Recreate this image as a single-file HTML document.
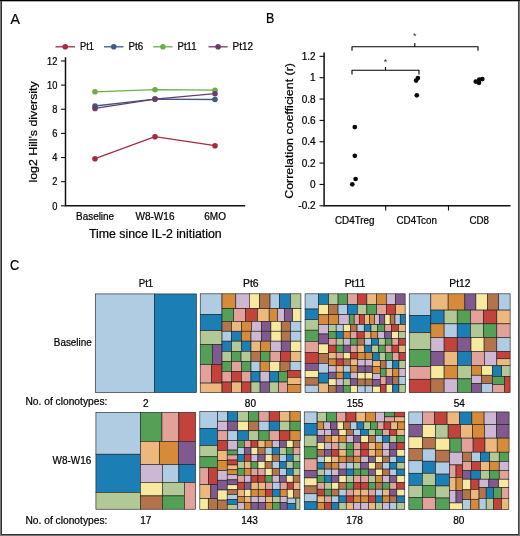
<!DOCTYPE html>
<html lang="en">
<head>
<meta charset="utf-8">
<title>Figure</title>
<style>
html,body{margin:0;padding:0;background:#fff;}
body{width:520px;height:536px;overflow:hidden;}
svg{display:block;font-family:"Liberation Sans", sans-serif;}
</style>
</head>
<body>
<svg width="520" height="536" viewBox="0 0 520 536">
<rect x="0" y="0" width="520" height="536" fill="#fff"/>
<g id="panelA">
<text x="10.5" y="23.6" font-size="14.8" text-anchor="start" fill="#000" textLength="9.4" lengthAdjust="spacingAndGlyphs" stroke="#000" stroke-width="0.22">A</text>
<line x1="55.5" y1="46.8" x2="75" y2="46.8" stroke="#a52a3d" stroke-width="1.3"/>
<circle cx="65.25" cy="46.8" r="2.8" fill="#a52a3d"/>
<text x="80" y="50.2" font-size="10.5" text-anchor="start" fill="#000" textLength="14" lengthAdjust="spacingAndGlyphs" stroke="#000" stroke-width="0.22">Pt1</text>
<line x1="104" y1="46.8" x2="123.5" y2="46.8" stroke="#3c5c88" stroke-width="1.3"/>
<circle cx="113.75" cy="46.8" r="2.8" fill="#3c5c88"/>
<text x="128.5" y="50.2" font-size="10.5" text-anchor="start" fill="#000" textLength="14.7" lengthAdjust="spacingAndGlyphs" stroke="#000" stroke-width="0.22">Pt6</text>
<line x1="153.2" y1="46.8" x2="172.6" y2="46.8" stroke="#6cad48" stroke-width="1.3"/>
<circle cx="162.89999999999998" cy="46.8" r="2.8" fill="#6cad48"/>
<text x="177.5" y="50.2" font-size="10.5" text-anchor="start" fill="#000" textLength="19" lengthAdjust="spacingAndGlyphs" stroke="#000" stroke-width="0.22">Pt11</text>
<line x1="208.5" y1="46.8" x2="227.6" y2="46.8" stroke="#6b3c69" stroke-width="1.3"/>
<circle cx="218.05" cy="46.8" r="2.8" fill="#6b3c69"/>
<text x="232.5" y="50.2" font-size="10.5" text-anchor="start" fill="#000" textLength="20.5" lengthAdjust="spacingAndGlyphs" stroke="#000" stroke-width="0.22">Pt12</text>
<path d="M65.5 57.2 V205.8 H245.2" fill="none" stroke="#111" stroke-width="1.5"/>
<line x1="61" y1="205.80" x2="65.5" y2="205.80" stroke="#111" stroke-width="1.1"/>
<text x="57.4" y="209.5" font-size="10" text-anchor="end" fill="#000" textLength="5.15" lengthAdjust="spacingAndGlyphs" stroke="#000" stroke-width="0.22">0</text>
<line x1="61" y1="181.66" x2="65.5" y2="181.66" stroke="#111" stroke-width="1.1"/>
<text x="57.4" y="185.36" font-size="10" text-anchor="end" fill="#000" textLength="5.15" lengthAdjust="spacingAndGlyphs" stroke="#000" stroke-width="0.22">2</text>
<line x1="61" y1="157.52" x2="65.5" y2="157.52" stroke="#111" stroke-width="1.1"/>
<text x="57.4" y="161.22" font-size="10" text-anchor="end" fill="#000" textLength="5.15" lengthAdjust="spacingAndGlyphs" stroke="#000" stroke-width="0.22">4</text>
<line x1="61" y1="133.38" x2="65.5" y2="133.38" stroke="#111" stroke-width="1.1"/>
<text x="57.4" y="137.08" font-size="10" text-anchor="end" fill="#000" textLength="5.15" lengthAdjust="spacingAndGlyphs" stroke="#000" stroke-width="0.22">6</text>
<line x1="61" y1="109.24" x2="65.5" y2="109.24" stroke="#111" stroke-width="1.1"/>
<text x="57.4" y="112.94" font-size="10" text-anchor="end" fill="#000" textLength="5.15" lengthAdjust="spacingAndGlyphs" stroke="#000" stroke-width="0.22">8</text>
<line x1="61" y1="85.10" x2="65.5" y2="85.10" stroke="#111" stroke-width="1.1"/>
<text x="57.4" y="88.8" font-size="10" text-anchor="end" fill="#000" textLength="10.3" lengthAdjust="spacingAndGlyphs" stroke="#000" stroke-width="0.22">10</text>
<line x1="61" y1="60.96" x2="65.5" y2="60.96" stroke="#111" stroke-width="1.1"/>
<text x="57.4" y="64.66" font-size="10" text-anchor="end" fill="#000" textLength="10.3" lengthAdjust="spacingAndGlyphs" stroke="#000" stroke-width="0.22">12</text>
<polyline points="95,91.8 155,89.7 215,90.2" fill="none" stroke="#6cad48" stroke-width="1.3"/>
<circle cx="95" cy="91.8" r="2.8" fill="#6cad48"/>
<circle cx="155" cy="89.7" r="2.8" fill="#6cad48"/>
<circle cx="215" cy="90.2" r="2.8" fill="#6cad48"/>
<polyline points="95,106.0 155,99.1 215,99.5" fill="none" stroke="#3c5c88" stroke-width="1.3"/>
<circle cx="95" cy="106.0" r="2.8" fill="#3c5c88"/>
<circle cx="155" cy="99.1" r="2.8" fill="#3c5c88"/>
<circle cx="215" cy="99.5" r="2.8" fill="#3c5c88"/>
<polyline points="95,108.4 155,99.1 215,93.7" fill="none" stroke="#6b3c69" stroke-width="1.3"/>
<circle cx="95" cy="108.4" r="2.8" fill="#6b3c69"/>
<circle cx="155" cy="99.1" r="2.8" fill="#6b3c69"/>
<circle cx="215" cy="93.7" r="2.8" fill="#6b3c69"/>
<polyline points="95,158.7 155,136.7 215,145.7" fill="none" stroke="#a52a3d" stroke-width="1.3"/>
<circle cx="95" cy="158.7" r="2.8" fill="#a52a3d"/>
<circle cx="155" cy="136.7" r="2.8" fill="#a52a3d"/>
<circle cx="215" cy="145.7" r="2.8" fill="#a52a3d"/>
<text x="76.1" y="219.7" font-size="10" text-anchor="start" fill="#000" textLength="38" lengthAdjust="spacingAndGlyphs" stroke="#000" stroke-width="0.22">Baseline</text>
<text x="135.5" y="219.6" font-size="10" text-anchor="start" fill="#000" textLength="39" lengthAdjust="spacingAndGlyphs" stroke="#000" stroke-width="0.22">W8-W16</text>
<text x="204.3" y="219.6" font-size="10" text-anchor="start" fill="#000" textLength="21.7" lengthAdjust="spacingAndGlyphs" stroke="#000" stroke-width="0.22">6MO</text>
<text x="88.9" y="238.1" font-size="12" text-anchor="start" fill="#000" textLength="132.8" lengthAdjust="spacingAndGlyphs" stroke="#000" stroke-width="0.22">Time since IL-2 initiation</text>
<text x="37.0" y="182.5" font-size="11.6" text-anchor="start" fill="#000" textLength="101.2" lengthAdjust="spacingAndGlyphs" transform="rotate(-90 37.0 182.5)" stroke="#000" stroke-width="0.22">log2 Hill's diversity</text>
</g>
<g id="panelB">
<text x="266" y="23.4" font-size="14.6" text-anchor="start" fill="#000" textLength="8.3" lengthAdjust="spacingAndGlyphs" stroke="#000" stroke-width="0.22">B</text>
<path d="M324.1 52.5 V205.8 H510.5" fill="none" stroke="#111" stroke-width="1.5"/>
<line x1="319.5" y1="205.80" x2="324.1" y2="205.80" stroke="#111" stroke-width="1.1"/>
<text x="315.6" y="209.3" font-size="10" text-anchor="end" fill="#000" stroke="#000" stroke-width="0.22">-0.2</text>
<line x1="319.5" y1="184.45" x2="324.1" y2="184.45" stroke="#111" stroke-width="1.1"/>
<text x="315.6" y="187.95" font-size="10" text-anchor="end" fill="#000" stroke="#000" stroke-width="0.22">0</text>
<line x1="319.5" y1="163.10" x2="324.1" y2="163.10" stroke="#111" stroke-width="1.1"/>
<text x="315.6" y="166.6" font-size="10" text-anchor="end" fill="#000" stroke="#000" stroke-width="0.22">0.2</text>
<line x1="319.5" y1="141.75" x2="324.1" y2="141.75" stroke="#111" stroke-width="1.1"/>
<text x="315.6" y="145.25" font-size="10" text-anchor="end" fill="#000" stroke="#000" stroke-width="0.22">0.4</text>
<line x1="319.5" y1="120.40" x2="324.1" y2="120.40" stroke="#111" stroke-width="1.1"/>
<text x="315.6" y="123.9" font-size="10" text-anchor="end" fill="#000" stroke="#000" stroke-width="0.22">0.6</text>
<line x1="319.5" y1="99.05" x2="324.1" y2="99.05" stroke="#111" stroke-width="1.1"/>
<text x="315.6" y="102.55" font-size="10" text-anchor="end" fill="#000" stroke="#000" stroke-width="0.22">0.8</text>
<line x1="319.5" y1="77.70" x2="324.1" y2="77.70" stroke="#111" stroke-width="1.1"/>
<text x="315.6" y="81.2" font-size="10" text-anchor="end" fill="#000" stroke="#000" stroke-width="0.22">1</text>
<line x1="319.5" y1="56.35" x2="324.1" y2="56.35" stroke="#111" stroke-width="1.1"/>
<text x="315.6" y="59.85" font-size="10" text-anchor="end" fill="#000" stroke="#000" stroke-width="0.22">1.2</text>
<line x1="385.7" y1="205.8" x2="385.7" y2="210.5" stroke="#111" stroke-width="1.1"/>
<line x1="448.5" y1="205.8" x2="448.5" y2="210.5" stroke="#111" stroke-width="1.1"/>
<text x="335" y="223.6" font-size="10" text-anchor="start" fill="#000" textLength="39.5" lengthAdjust="spacingAndGlyphs" stroke="#000" stroke-width="0.22">CD4Treg</text>
<text x="396.5" y="223.6" font-size="10" text-anchor="start" fill="#000" textLength="40.5" lengthAdjust="spacingAndGlyphs" stroke="#000" stroke-width="0.22">CD4Tcon</text>
<text x="469.5" y="223.6" font-size="10" text-anchor="start" fill="#000" textLength="19.5" lengthAdjust="spacingAndGlyphs" stroke="#000" stroke-width="0.22">CD8</text>
<text x="292.8" y="198.8" font-size="11.6" text-anchor="start" fill="#000" textLength="135.8" lengthAdjust="spacingAndGlyphs" transform="rotate(-90 292.8 198.8)" stroke="#000" stroke-width="0.22">Correlation coefficient (r)</text>
<circle cx="352.3" cy="184.3" r="2.35" fill="#0a0a0a"/>
<circle cx="355.6" cy="179.0" r="2.35" fill="#0a0a0a"/>
<circle cx="354.8" cy="155.8" r="2.35" fill="#0a0a0a"/>
<circle cx="354.8" cy="127.1" r="2.35" fill="#0a0a0a"/>
<circle cx="416.8" cy="95.3" r="2.35" fill="#0a0a0a"/>
<circle cx="416.1" cy="80.6" r="2.35" fill="#0a0a0a"/>
<circle cx="417.90000000000003" cy="78.1" r="2.35" fill="#0a0a0a"/>
<circle cx="475.8" cy="81.6" r="2.35" fill="#0a0a0a"/>
<circle cx="479.0" cy="82.8" r="2.35" fill="#0a0a0a"/>
<circle cx="479.3" cy="79.6" r="2.35" fill="#0a0a0a"/>
<circle cx="482.3" cy="79.1" r="2.35" fill="#0a0a0a"/>
<path d="M352 50.8 V46.8 H478 V50.8 M414.8 46.8 V43" fill="none" stroke="#000" stroke-width="1.1" stroke-linejoin="round"/>
<path d="M352 74.6 V70.3 H419 V74.6 M385.5 70.3 V67" fill="none" stroke="#000" stroke-width="1.1" stroke-linejoin="round"/>
<text x="414.8" y="39.3" font-size="9" text-anchor="middle" fill="#333">*</text>
<text x="385.5" y="64.9" font-size="9" text-anchor="middle" fill="#333">*</text>
</g>
<g id="panelC">
<text x="10" y="269.6" font-size="14.8" text-anchor="start" fill="#000" textLength="9.2" lengthAdjust="spacingAndGlyphs" stroke="#000" stroke-width="0.22">C</text>
<text x="138.75" y="287.3" font-size="10.5" text-anchor="start" fill="#000" textLength="14.5" lengthAdjust="spacingAndGlyphs" stroke="#000" stroke-width="0.22">Pt1</text>
<text x="242.95" y="287.3" font-size="10.5" text-anchor="start" fill="#000" textLength="15.7" lengthAdjust="spacingAndGlyphs" stroke="#000" stroke-width="0.22">Pt6</text>
<text x="344.65" y="287.3" font-size="10.5" text-anchor="start" fill="#000" textLength="20.7" lengthAdjust="spacingAndGlyphs" stroke="#000" stroke-width="0.22">Pt11</text>
<text x="449.35" y="287.3" font-size="10.5" text-anchor="start" fill="#000" textLength="21.1" lengthAdjust="spacingAndGlyphs" stroke="#000" stroke-width="0.22">Pt12</text>
<text x="53.8" y="346" font-size="10.5" text-anchor="start" fill="#000" textLength="38" lengthAdjust="spacingAndGlyphs" stroke="#000" stroke-width="0.22">Baseline</text>
<text x="52.6" y="463.8" font-size="10.5" text-anchor="start" fill="#000" textLength="38.7" lengthAdjust="spacingAndGlyphs" stroke="#000" stroke-width="0.22">W8-W16</text>
<text x="25.4" y="404.7" font-size="10.5" text-anchor="start" fill="#000" textLength="82" lengthAdjust="spacingAndGlyphs" stroke="#000" stroke-width="0.22">No. of clonotypes:</text>
<text x="25.4" y="523.5" font-size="10.5" text-anchor="start" fill="#000" textLength="82" lengthAdjust="spacingAndGlyphs" stroke="#000" stroke-width="0.22">No. of clonotypes:</text>
<text x="145.8" y="406.7" font-size="10" text-anchor="middle" fill="#000" stroke="#000" stroke-width="0.22">2</text>
<text x="250.4" y="406.7" font-size="10" text-anchor="middle" fill="#000" stroke="#000" stroke-width="0.22">80</text>
<text x="355" y="406.7" font-size="10" text-anchor="middle" fill="#000" stroke="#000" stroke-width="0.22">155</text>
<text x="459.2" y="406.7" font-size="10" text-anchor="middle" fill="#000" stroke="#000" stroke-width="0.22">54</text>
<text x="145.8" y="523.5" font-size="10" text-anchor="middle" fill="#000" stroke="#000" stroke-width="0.22">17</text>
<text x="249.6" y="523.5" font-size="10" text-anchor="middle" fill="#000" stroke="#000" stroke-width="0.22">143</text>
<text x="354.6" y="523.5" font-size="10" text-anchor="middle" fill="#000" stroke="#000" stroke-width="0.22">178</text>
<text x="458.8" y="523.5" font-size="10" text-anchor="middle" fill="#000" stroke="#000" stroke-width="0.22">80</text>
<g id="pt1_b" stroke="#1e1e1e" stroke-width="0.62" shape-rendering="geometricPrecision">
<rect x="95.29" y="293.92" width="59.02" height="98.58" fill="#b0cce3"/>
<rect x="154.31" y="293.92" width="42.10" height="98.58" fill="#1b7eb5"/>
</g>
<g id="pt6_b" stroke="#1e1e1e" stroke-width="0.62" shape-rendering="geometricPrecision">
<rect x="200.23" y="293.81" width="21.79" height="20.52" fill="#b0cce3"/>
<rect x="200.23" y="314.33" width="21.79" height="16.29" fill="#1b7eb5"/>
<rect x="200.23" y="330.62" width="21.79" height="13.75" fill="#b3c897"/>
<rect x="200.23" y="344.37" width="12.06" height="20.10" fill="#54a057"/>
<rect x="212.29" y="344.37" width="9.73" height="20.10" fill="#80598f"/>
<rect x="200.23" y="364.46" width="11.21" height="18.62" fill="#e2a199"/>
<rect x="211.44" y="364.46" width="10.58" height="18.62" fill="#c3423b"/>
<rect x="200.23" y="383.08" width="21.79" height="9.52" fill="#edb87e"/>
<rect x="222.02" y="293.81" width="13.75" height="14.81" fill="#d68b3a"/>
<rect x="235.77" y="293.81" width="13.54" height="14.81" fill="#cdb7d3"/>
<rect x="249.31" y="293.81" width="10.15" height="14.81" fill="#f7eaa0"/>
<rect x="259.46" y="293.81" width="10.58" height="14.81" fill="#b4744b"/>
<rect x="270.04" y="293.81" width="9.31" height="14.81" fill="#b0cce3"/>
<rect x="279.35" y="293.81" width="11.00" height="14.81" fill="#1b7eb5"/>
<rect x="290.35" y="293.81" width="10.58" height="14.81" fill="#b3c897"/>
<rect x="222.02" y="308.62" width="11.63" height="12.69" fill="#54a057"/>
<rect x="233.65" y="308.62" width="11.85" height="12.69" fill="#e2a199"/>
<rect x="245.50" y="308.62" width="12.06" height="12.69" fill="#c3423b"/>
<rect x="257.56" y="308.62" width="11.63" height="12.69" fill="#edb87e"/>
<rect x="269.19" y="308.62" width="8.25" height="12.69" fill="#d68b3a"/>
<rect x="277.44" y="308.62" width="7.19" height="12.69" fill="#cdb7d3"/>
<rect x="284.63" y="308.62" width="8.04" height="12.69" fill="#80598f"/>
<rect x="292.67" y="308.62" width="8.25" height="12.69" fill="#f7eaa0"/>
<rect x="222.02" y="321.31" width="9.52" height="9.94" fill="#b4744b"/>
<rect x="231.54" y="321.31" width="9.94" height="9.94" fill="#edb87e"/>
<rect x="241.48" y="321.31" width="9.94" height="9.94" fill="#d68b3a"/>
<rect x="251.42" y="321.31" width="9.94" height="9.94" fill="#cdb7d3"/>
<rect x="261.37" y="321.31" width="9.52" height="9.94" fill="#80598f"/>
<rect x="270.88" y="321.31" width="10.37" height="9.94" fill="#f7eaa0"/>
<rect x="281.25" y="321.31" width="9.31" height="9.94" fill="#b4744b"/>
<rect x="290.56" y="321.31" width="10.37" height="9.94" fill="#b0cce3"/>
<rect x="222.02" y="331.25" width="9.52" height="9.94" fill="#b0cce3"/>
<rect x="231.54" y="331.25" width="9.94" height="9.94" fill="#1b7eb5"/>
<rect x="241.48" y="331.25" width="9.52" height="9.94" fill="#d68b3a"/>
<rect x="251.00" y="331.25" width="10.37" height="9.94" fill="#cdb7d3"/>
<rect x="261.37" y="331.25" width="9.52" height="9.94" fill="#80598f"/>
<rect x="270.88" y="331.25" width="10.37" height="9.94" fill="#f7eaa0"/>
<rect x="281.25" y="331.25" width="9.31" height="9.94" fill="#b4744b"/>
<rect x="290.56" y="331.25" width="10.37" height="9.94" fill="#b0cce3"/>
<rect x="222.02" y="341.19" width="9.52" height="10.15" fill="#1b7eb5"/>
<rect x="231.54" y="341.19" width="9.94" height="10.15" fill="#b3c897"/>
<rect x="241.48" y="341.19" width="9.52" height="10.15" fill="#1b7eb5"/>
<rect x="251.00" y="341.19" width="9.52" height="10.15" fill="#edb87e"/>
<rect x="260.52" y="341.19" width="9.94" height="10.15" fill="#d68b3a"/>
<rect x="270.46" y="341.19" width="10.79" height="10.15" fill="#cdb7d3"/>
<rect x="281.25" y="341.19" width="9.31" height="10.15" fill="#80598f"/>
<rect x="290.56" y="341.19" width="10.37" height="10.15" fill="#f7eaa0"/>
<rect x="222.02" y="351.35" width="9.52" height="10.15" fill="#b3c897"/>
<rect x="231.54" y="351.35" width="9.52" height="10.15" fill="#54a057"/>
<rect x="241.06" y="351.35" width="9.94" height="10.15" fill="#b3c897"/>
<rect x="251.00" y="351.35" width="9.52" height="10.15" fill="#b4744b"/>
<rect x="260.52" y="351.35" width="9.52" height="10.15" fill="#54a057"/>
<rect x="270.04" y="351.35" width="10.58" height="10.15" fill="#e2a199"/>
<rect x="280.62" y="351.35" width="9.94" height="10.15" fill="#c3423b"/>
<rect x="290.56" y="351.35" width="10.37" height="10.15" fill="#edb87e"/>
<rect x="222.02" y="361.50" width="9.52" height="9.94" fill="#54a057"/>
<rect x="231.54" y="361.50" width="9.94" height="9.94" fill="#e2a199"/>
<rect x="241.48" y="361.50" width="9.52" height="9.94" fill="#54a057"/>
<rect x="251.00" y="361.50" width="9.10" height="9.94" fill="#b0cce3"/>
<rect x="260.10" y="361.50" width="9.31" height="9.94" fill="#d68b3a"/>
<rect x="269.40" y="361.50" width="10.58" height="9.94" fill="#f7eaa0"/>
<rect x="279.98" y="361.50" width="10.15" height="9.94" fill="#b4744b"/>
<rect x="222.02" y="371.44" width="9.52" height="10.58" fill="#e2a199"/>
<rect x="231.54" y="371.44" width="9.94" height="10.58" fill="#c3423b"/>
<rect x="241.48" y="371.44" width="9.52" height="10.58" fill="#e2a199"/>
<rect x="251.00" y="371.44" width="9.10" height="10.58" fill="#1b7eb5"/>
<rect x="260.10" y="371.44" width="9.31" height="10.58" fill="#cdb7d3"/>
<rect x="269.40" y="371.44" width="9.10" height="10.58" fill="#1b7eb5"/>
<rect x="278.50" y="371.44" width="8.88" height="10.58" fill="#54a057"/>
<rect x="222.02" y="382.02" width="9.52" height="10.58" fill="#c3423b"/>
<rect x="231.54" y="382.02" width="9.94" height="10.58" fill="#edb87e"/>
<rect x="241.48" y="382.02" width="9.52" height="10.58" fill="#c3423b"/>
<rect x="251.00" y="382.02" width="9.10" height="10.58" fill="#b3c897"/>
<rect x="260.10" y="382.02" width="9.31" height="10.58" fill="#80598f"/>
<rect x="269.40" y="382.02" width="9.10" height="10.58" fill="#b3c897"/>
<rect x="278.50" y="382.02" width="8.88" height="10.58" fill="#e2a199"/>
<rect x="290.13" y="361.50" width="10.79" height="8.88" fill="#b0cce3"/>
<rect x="287.38" y="370.38" width="13.54" height="6.98" fill="#c3423b"/>
<rect x="287.38" y="377.37" width="13.54" height="7.19" fill="#edb87e"/>
<rect x="287.38" y="384.56" width="13.54" height="8.04" fill="#d68b3a"/>
</g>
<g id="pt11_b" stroke="#1e1e1e" stroke-width="0.62" shape-rendering="geometricPrecision">
<rect x="305.08" y="293.81" width="13.33" height="15.23" fill="#b0cce3"/>
<rect x="305.08" y="309.04" width="13.33" height="10.58" fill="#1b7eb5"/>
<rect x="305.08" y="319.62" width="13.33" height="10.58" fill="#b3c897"/>
<rect x="305.08" y="330.19" width="13.33" height="11.21" fill="#54a057"/>
<rect x="305.08" y="341.40" width="13.33" height="11.00" fill="#e2a199"/>
<rect x="305.08" y="352.40" width="13.33" height="11.00" fill="#c3423b"/>
<rect x="305.08" y="363.40" width="13.33" height="6.98" fill="#80598f"/>
<rect x="305.08" y="370.38" width="13.33" height="7.40" fill="#f7eaa0"/>
<rect x="305.08" y="377.79" width="13.33" height="7.40" fill="#b4744b"/>
<rect x="305.08" y="385.19" width="13.33" height="7.40" fill="#b0cce3"/>
<rect x="318.40" y="293.81" width="10.15" height="10.58" fill="#1b7eb5"/>
<rect x="318.40" y="304.38" width="10.15" height="10.37" fill="#f7eaa0"/>
<rect x="318.40" y="314.75" width="10.15" height="9.73" fill="#d68b3a"/>
<rect x="318.40" y="324.48" width="10.15" height="9.52" fill="#cdb7d3"/>
<rect x="318.40" y="334.00" width="10.15" height="9.94" fill="#80598f"/>
<rect x="318.40" y="343.94" width="10.15" height="9.52" fill="#f7eaa0"/>
<rect x="318.40" y="353.46" width="10.15" height="9.94" fill="#b4744b"/>
<rect x="318.40" y="363.40" width="10.15" height="9.73" fill="#b0cce3"/>
<rect x="318.40" y="373.13" width="10.15" height="9.94" fill="#1b7eb5"/>
<rect x="318.40" y="383.08" width="10.15" height="9.52" fill="#edb87e"/>
<rect x="328.56" y="293.81" width="9.52" height="10.58" fill="#b3c897"/>
<rect x="338.08" y="293.81" width="9.52" height="10.58" fill="#54a057"/>
<rect x="347.60" y="293.81" width="9.73" height="10.58" fill="#e2a199"/>
<rect x="357.33" y="293.81" width="9.52" height="10.58" fill="#c3423b"/>
<rect x="366.85" y="293.81" width="9.73" height="10.58" fill="#edb87e"/>
<rect x="376.58" y="293.81" width="9.73" height="10.58" fill="#d68b3a"/>
<rect x="386.31" y="293.81" width="9.31" height="10.58" fill="#cdb7d3"/>
<rect x="395.62" y="293.81" width="9.52" height="10.58" fill="#80598f"/>
<rect x="328.56" y="304.38" width="9.52" height="10.37" fill="#b4744b"/>
<rect x="338.08" y="304.38" width="9.52" height="10.37" fill="#b0cce3"/>
<rect x="347.60" y="304.38" width="9.73" height="10.37" fill="#1b7eb5"/>
<rect x="357.33" y="304.38" width="9.52" height="10.37" fill="#b3c897"/>
<rect x="366.85" y="304.38" width="9.73" height="10.37" fill="#54a057"/>
<rect x="376.58" y="304.38" width="9.73" height="10.37" fill="#e2a199"/>
<rect x="386.31" y="304.38" width="9.31" height="10.37" fill="#c3423b"/>
<rect x="395.62" y="304.38" width="9.52" height="10.37" fill="#edb87e"/>
<rect x="328.55" y="314.60" width="10.20" height="9.90" fill="#d68b3a"/>
<rect x="338.75" y="314.60" width="10.50" height="9.90" fill="#cdb7d3"/>
<rect x="349.25" y="314.60" width="4.95" height="9.90" fill="#54a057"/>
<rect x="354.20" y="314.60" width="5.10" height="9.90" fill="#e2a199"/>
<rect x="359.30" y="314.60" width="5.10" height="9.90" fill="#c3423b"/>
<rect x="364.40" y="314.60" width="5.10" height="9.90" fill="#edb87e"/>
<rect x="369.50" y="314.60" width="5.10" height="9.90" fill="#d68b3a"/>
<rect x="374.60" y="314.60" width="5.10" height="9.90" fill="#cdb7d3"/>
<rect x="379.70" y="314.60" width="5.10" height="9.90" fill="#80598f"/>
<rect x="384.80" y="314.60" width="5.40" height="9.90" fill="#f7eaa0"/>
<rect x="390.20" y="314.60" width="4.80" height="9.90" fill="#b4744b"/>
<rect x="395.00" y="314.60" width="5.25" height="9.90" fill="#b0cce3"/>
<rect x="400.25" y="314.60" width="5.25" height="9.90" fill="#1b7eb5"/>
<rect x="328.55" y="324.50" width="7.65" height="7.05" fill="#b3c897"/>
<rect x="336.20" y="324.50" width="7.05" height="7.05" fill="#b0cce3"/>
<rect x="343.25" y="324.50" width="7.05" height="7.05" fill="#f7eaa0"/>
<rect x="350.30" y="324.50" width="6.75" height="7.05" fill="#b4744b"/>
<rect x="357.05" y="324.50" width="7.20" height="7.05" fill="#b0cce3"/>
<rect x="364.25" y="324.50" width="6.75" height="7.05" fill="#1b7eb5"/>
<rect x="371.00" y="324.50" width="6.75" height="7.05" fill="#b3c897"/>
<rect x="377.75" y="324.50" width="7.05" height="7.05" fill="#54a057"/>
<rect x="384.80" y="324.50" width="6.90" height="7.05" fill="#e2a199"/>
<rect x="391.70" y="324.50" width="6.75" height="7.05" fill="#c3423b"/>
<rect x="398.45" y="324.50" width="7.05" height="7.05" fill="#edb87e"/>
<rect x="328.55" y="331.55" width="7.65" height="6.75" fill="#54a057"/>
<rect x="336.20" y="331.55" width="7.05" height="6.75" fill="#1b7eb5"/>
<rect x="343.25" y="331.55" width="7.05" height="6.75" fill="#d68b3a"/>
<rect x="350.30" y="331.55" width="6.75" height="6.75" fill="#e2a199"/>
<rect x="357.05" y="331.55" width="7.20" height="6.75" fill="#c3423b"/>
<rect x="364.25" y="331.55" width="6.75" height="6.75" fill="#edb87e"/>
<rect x="371.00" y="331.55" width="6.75" height="6.75" fill="#d68b3a"/>
<rect x="377.75" y="331.55" width="7.05" height="6.75" fill="#cdb7d3"/>
<rect x="384.80" y="331.55" width="6.90" height="6.75" fill="#80598f"/>
<rect x="391.70" y="331.55" width="6.75" height="6.75" fill="#f7eaa0"/>
<rect x="398.45" y="331.55" width="7.05" height="6.75" fill="#b3c897"/>
<rect x="328.55" y="338.30" width="7.65" height="6.90" fill="#e2a199"/>
<rect x="336.20" y="338.30" width="7.05" height="6.90" fill="#b3c897"/>
<rect x="343.25" y="338.30" width="7.05" height="6.90" fill="#cdb7d3"/>
<rect x="350.30" y="338.30" width="6.90" height="6.90" fill="#54a057"/>
<rect x="357.20" y="338.30" width="7.50" height="6.90" fill="#b4744b"/>
<rect x="364.70" y="338.30" width="7.05" height="6.90" fill="#b0cce3"/>
<rect x="371.75" y="338.30" width="6.75" height="6.90" fill="#1b7eb5"/>
<rect x="378.50" y="338.30" width="6.75" height="6.90" fill="#b3c897"/>
<rect x="385.25" y="338.30" width="6.75" height="6.90" fill="#54a057"/>
<rect x="392.00" y="338.30" width="6.75" height="6.90" fill="#e2a199"/>
<rect x="398.75" y="338.30" width="6.75" height="6.90" fill="#c3423b"/>
<rect x="328.55" y="345.20" width="7.65" height="7.35" fill="#c3423b"/>
<rect x="336.20" y="345.20" width="7.05" height="7.35" fill="#54a057"/>
<rect x="343.25" y="345.20" width="7.05" height="7.35" fill="#80598f"/>
<rect x="350.30" y="345.20" width="6.90" height="7.35" fill="#e2a199"/>
<rect x="357.20" y="345.20" width="7.50" height="7.35" fill="#edb87e"/>
<rect x="364.70" y="345.20" width="7.05" height="7.35" fill="#1b7eb5"/>
<rect x="371.75" y="345.20" width="6.75" height="7.35" fill="#b3c897"/>
<rect x="378.50" y="345.20" width="6.75" height="7.35" fill="#54a057"/>
<rect x="385.25" y="345.20" width="6.75" height="7.35" fill="#e2a199"/>
<rect x="392.00" y="345.20" width="6.75" height="7.35" fill="#c3423b"/>
<rect x="398.75" y="345.20" width="6.75" height="7.35" fill="#edb87e"/>
<rect x="328.55" y="352.55" width="7.65" height="6.45" fill="#edb87e"/>
<rect x="336.20" y="352.55" width="7.05" height="6.45" fill="#e2a199"/>
<rect x="343.25" y="352.55" width="7.05" height="6.45" fill="#f7eaa0"/>
<rect x="350.30" y="352.55" width="7.20" height="6.45" fill="#c3423b"/>
<rect x="328.55" y="359.00" width="7.65" height="6.75" fill="#d68b3a"/>
<rect x="336.20" y="359.00" width="7.05" height="6.75" fill="#c3423b"/>
<rect x="343.25" y="359.00" width="7.05" height="6.75" fill="#b4744b"/>
<rect x="350.30" y="359.00" width="7.20" height="6.75" fill="#edb87e"/>
<rect x="328.55" y="365.75" width="7.65" height="6.45" fill="#cdb7d3"/>
<rect x="336.20" y="365.75" width="7.05" height="6.45" fill="#edb87e"/>
<rect x="343.25" y="365.75" width="7.05" height="6.45" fill="#b0cce3"/>
<rect x="350.30" y="365.75" width="7.20" height="6.45" fill="#d68b3a"/>
<rect x="328.55" y="372.20" width="7.65" height="6.60" fill="#80598f"/>
<rect x="336.20" y="372.20" width="7.05" height="6.60" fill="#d68b3a"/>
<rect x="343.25" y="372.20" width="7.05" height="6.60" fill="#1b7eb5"/>
<rect x="350.30" y="372.20" width="7.20" height="6.60" fill="#cdb7d3"/>
<rect x="328.55" y="378.80" width="7.65" height="6.75" fill="#f7eaa0"/>
<rect x="336.20" y="378.80" width="7.05" height="6.75" fill="#cdb7d3"/>
<rect x="343.25" y="378.80" width="7.05" height="6.75" fill="#b3c897"/>
<rect x="350.30" y="378.80" width="7.20" height="6.75" fill="#80598f"/>
<rect x="328.55" y="385.55" width="7.65" height="6.90" fill="#b4744b"/>
<rect x="336.20" y="385.55" width="7.05" height="6.90" fill="#80598f"/>
<rect x="343.25" y="385.55" width="7.05" height="6.90" fill="#54a057"/>
<rect x="350.30" y="385.55" width="7.20" height="6.90" fill="#f7eaa0"/>
<rect x="357.50" y="352.55" width="7.65" height="6.90" fill="#d68b3a"/>
<rect x="365.15" y="352.55" width="7.50" height="6.90" fill="#d68b3a"/>
<rect x="357.50" y="359.45" width="7.65" height="6.60" fill="#cdb7d3"/>
<rect x="365.15" y="359.45" width="7.50" height="6.60" fill="#cdb7d3"/>
<rect x="357.50" y="366.05" width="7.65" height="6.60" fill="#80598f"/>
<rect x="365.15" y="366.05" width="7.50" height="6.60" fill="#80598f"/>
<rect x="357.50" y="372.65" width="7.65" height="6.45" fill="#f7eaa0"/>
<rect x="365.15" y="372.65" width="7.50" height="6.45" fill="#f7eaa0"/>
<rect x="357.50" y="379.10" width="7.65" height="6.75" fill="#b4744b"/>
<rect x="365.15" y="379.10" width="7.50" height="6.75" fill="#b4744b"/>
<rect x="357.50" y="385.85" width="7.65" height="6.60" fill="#b0cce3"/>
<rect x="365.15" y="385.85" width="7.50" height="6.60" fill="#b0cce3"/>
<rect x="372.65" y="352.55" width="6.60" height="8.10" fill="#1b7eb5"/>
<rect x="379.25" y="352.55" width="6.45" height="8.10" fill="#b3c897"/>
<rect x="385.70" y="352.55" width="6.60" height="8.10" fill="#54a057"/>
<rect x="392.30" y="352.55" width="6.75" height="8.10" fill="#e2a199"/>
<rect x="399.05" y="352.55" width="6.45" height="8.10" fill="#c3423b"/>
<rect x="372.65" y="360.65" width="7.80" height="5.70" fill="#edb87e"/>
<rect x="372.65" y="366.35" width="7.80" height="7.05" fill="#d68b3a"/>
<rect x="372.65" y="373.40" width="7.80" height="6.00" fill="#cdb7d3"/>
<rect x="372.65" y="379.40" width="7.80" height="6.75" fill="#80598f"/>
<rect x="372.65" y="386.15" width="7.80" height="6.30" fill="#f7eaa0"/>
<rect x="380.45" y="360.65" width="5.70" height="7.80" fill="#b4744b"/>
<rect x="386.15" y="360.65" width="6.60" height="7.80" fill="#b0cce3"/>
<rect x="392.75" y="360.65" width="6.15" height="7.80" fill="#1b7eb5"/>
<rect x="398.90" y="360.65" width="6.60" height="7.80" fill="#b3c897"/>
<rect x="380.45" y="368.45" width="5.70" height="7.95" fill="#54a057"/>
<rect x="386.15" y="368.45" width="6.60" height="7.95" fill="#edb87e"/>
<rect x="392.75" y="368.45" width="6.15" height="7.95" fill="#d68b3a"/>
<rect x="398.90" y="368.45" width="6.60" height="7.95" fill="#cdb7d3"/>
<rect x="380.45" y="376.40" width="5.70" height="7.95" fill="#e2a199"/>
<rect x="386.15" y="376.40" width="6.60" height="7.95" fill="#80598f"/>
<rect x="392.75" y="376.40" width="6.15" height="7.95" fill="#b4744b"/>
<rect x="398.90" y="376.40" width="6.60" height="7.95" fill="#b0cce3"/>
<rect x="380.45" y="384.35" width="5.70" height="8.10" fill="#c3423b"/>
<rect x="386.15" y="384.35" width="6.60" height="8.10" fill="#f7eaa0"/>
<rect x="392.75" y="384.35" width="6.15" height="8.10" fill="#1b7eb5"/>
<rect x="398.90" y="384.35" width="6.60" height="8.10" fill="#b3c897"/>
</g>
<g id="pt12_b" stroke="#1e1e1e" stroke-width="0.62" shape-rendering="geometricPrecision">
<rect x="409.23" y="293.81" width="21.58" height="21.58" fill="#b0cce3"/>
<rect x="409.23" y="315.38" width="21.58" height="17.35" fill="#1b7eb5"/>
<rect x="409.23" y="332.73" width="21.58" height="16.92" fill="#b3c897"/>
<rect x="409.23" y="349.65" width="21.58" height="16.92" fill="#54a057"/>
<rect x="409.23" y="366.58" width="21.58" height="12.69" fill="#e2a199"/>
<rect x="409.23" y="379.27" width="21.58" height="13.33" fill="#c3423b"/>
<rect x="430.81" y="293.81" width="17.35" height="16.29" fill="#edb87e"/>
<rect x="448.15" y="293.81" width="16.71" height="16.29" fill="#d68b3a"/>
<rect x="464.87" y="293.81" width="11.00" height="16.29" fill="#80598f"/>
<rect x="475.87" y="293.81" width="11.63" height="16.29" fill="#f7eaa0"/>
<rect x="487.50" y="293.81" width="11.21" height="16.29" fill="#b4744b"/>
<rect x="498.71" y="293.81" width="11.42" height="16.29" fill="#b0cce3"/>
<rect x="430.81" y="310.10" width="13.33" height="13.75" fill="#1b7eb5"/>
<rect x="444.13" y="310.10" width="13.12" height="13.75" fill="#b3c897"/>
<rect x="457.25" y="310.10" width="13.33" height="13.75" fill="#54a057"/>
<rect x="470.58" y="310.10" width="13.12" height="13.75" fill="#e2a199"/>
<rect x="483.69" y="310.10" width="13.12" height="13.75" fill="#c3423b"/>
<rect x="496.81" y="310.10" width="13.33" height="13.75" fill="#edb87e"/>
<rect x="430.81" y="323.85" width="13.33" height="13.75" fill="#d68b3a"/>
<rect x="444.13" y="323.85" width="13.12" height="13.75" fill="#b0cce3"/>
<rect x="457.25" y="323.85" width="13.33" height="13.75" fill="#1b7eb5"/>
<rect x="470.58" y="323.85" width="13.12" height="13.75" fill="#b3c897"/>
<rect x="483.69" y="323.85" width="13.12" height="13.75" fill="#54a057"/>
<rect x="496.81" y="323.85" width="13.33" height="13.75" fill="#e2a199"/>
<rect x="430.81" y="337.60" width="13.33" height="13.75" fill="#cdb7d3"/>
<rect x="444.13" y="337.60" width="13.12" height="13.75" fill="#c3423b"/>
<rect x="457.25" y="337.60" width="13.75" height="13.75" fill="#80598f"/>
<rect x="471.00" y="337.60" width="13.12" height="13.75" fill="#f7eaa0"/>
<rect x="484.12" y="337.60" width="12.69" height="13.75" fill="#b4744b"/>
<rect x="496.81" y="337.60" width="13.33" height="13.75" fill="#b0cce3"/>
<rect x="430.81" y="351.35" width="13.33" height="14.17" fill="#80598f"/>
<rect x="444.13" y="351.35" width="13.54" height="14.17" fill="#edb87e"/>
<rect x="457.67" y="351.35" width="13.75" height="14.17" fill="#1b7eb5"/>
<rect x="471.42" y="351.35" width="13.12" height="14.17" fill="#e2a199"/>
<rect x="484.54" y="351.35" width="12.27" height="14.17" fill="#cdb7d3"/>
<rect x="430.81" y="365.52" width="13.33" height="13.33" fill="#f7eaa0"/>
<rect x="444.13" y="365.52" width="13.54" height="13.33" fill="#d68b3a"/>
<rect x="457.67" y="365.52" width="13.75" height="13.33" fill="#b3c897"/>
<rect x="430.81" y="378.85" width="13.33" height="13.75" fill="#b4744b"/>
<rect x="444.13" y="378.85" width="13.54" height="13.75" fill="#cdb7d3"/>
<rect x="457.67" y="378.85" width="13.75" height="13.75" fill="#54a057"/>
<rect x="496.81" y="351.35" width="13.33" height="7.40" fill="#c3423b"/>
<rect x="496.81" y="358.75" width="13.33" height="6.98" fill="#edb87e"/>
<rect x="471.42" y="365.73" width="10.15" height="9.52" fill="#d68b3a"/>
<rect x="481.58" y="365.73" width="10.79" height="9.52" fill="#f7eaa0"/>
<rect x="492.37" y="365.73" width="9.31" height="10.58" fill="#1b7eb5"/>
<rect x="501.67" y="365.73" width="8.46" height="10.58" fill="#b3c897"/>
<rect x="471.42" y="375.25" width="10.15" height="8.25" fill="#cdb7d3"/>
<rect x="481.58" y="375.25" width="10.79" height="8.25" fill="#b4744b"/>
<rect x="492.37" y="376.31" width="12.06" height="8.25" fill="#54a057"/>
<rect x="504.42" y="376.31" width="5.71" height="16.29" fill="#c3423b"/>
<rect x="471.42" y="383.50" width="10.15" height="9.10" fill="#80598f"/>
<rect x="481.58" y="383.50" width="10.79" height="9.10" fill="#b0cce3"/>
<rect x="492.37" y="384.56" width="12.06" height="8.04" fill="#e2a199"/>
</g>
<g id="pt1_w" stroke="#1e1e1e" stroke-width="0.62" shape-rendering="geometricPrecision">
<rect x="95.92" y="412.35" width="44.42" height="41.88" fill="#b0cce3"/>
<rect x="95.92" y="454.23" width="44.42" height="38.08" fill="#1b7eb5"/>
<rect x="95.92" y="492.31" width="44.42" height="16.92" fill="#b3c897"/>
<rect x="140.35" y="412.35" width="21.58" height="28.98" fill="#54a057"/>
<rect x="161.92" y="412.35" width="16.92" height="28.98" fill="#e2a199"/>
<rect x="178.85" y="412.35" width="16.71" height="28.98" fill="#c3423b"/>
<rect x="140.35" y="441.33" width="19.04" height="23.27" fill="#edb87e"/>
<rect x="159.38" y="441.33" width="19.04" height="23.27" fill="#d68b3a"/>
<rect x="178.42" y="441.33" width="17.13" height="23.27" fill="#80598f"/>
<rect x="140.35" y="464.60" width="22.00" height="17.77" fill="#cdb7d3"/>
<rect x="162.35" y="464.60" width="16.50" height="17.77" fill="#b0cce3"/>
<rect x="178.85" y="464.60" width="16.71" height="17.77" fill="#1b7eb5"/>
<rect x="140.35" y="482.37" width="22.00" height="13.54" fill="#f7eaa0"/>
<rect x="140.35" y="495.90" width="22.00" height="13.33" fill="#b4744b"/>
<rect x="162.35" y="482.37" width="22.00" height="13.54" fill="#b3c897"/>
<rect x="162.35" y="495.90" width="22.00" height="13.33" fill="#54a057"/>
<rect x="184.35" y="482.37" width="11.21" height="26.87" fill="#e2a199"/>
</g>
<g id="pt6_w" stroke="#1e1e1e" stroke-width="0.62" shape-rendering="geometricPrecision">
<rect x="199.81" y="411.50" width="17.77" height="16.92" fill="#b0cce3"/>
<rect x="199.81" y="428.42" width="17.77" height="17.13" fill="#1b7eb5"/>
<rect x="199.81" y="445.56" width="17.77" height="11.21" fill="#b3c897"/>
<rect x="199.81" y="456.77" width="17.77" height="11.00" fill="#54a057"/>
<rect x="199.81" y="467.77" width="8.88" height="16.92" fill="#e2a199"/>
<rect x="208.69" y="467.77" width="8.88" height="16.92" fill="#c3423b"/>
<rect x="199.81" y="484.69" width="11.00" height="13.96" fill="#edb87e"/>
<rect x="210.81" y="484.69" width="6.77" height="13.96" fill="#80598f"/>
<rect x="199.81" y="498.65" width="8.46" height="11.00" fill="#f7eaa0"/>
<rect x="208.27" y="498.65" width="9.31" height="11.00" fill="#b4744b"/>
<rect x="217.58" y="411.50" width="10.15" height="9.73" fill="#b0cce3"/>
<rect x="217.58" y="421.23" width="10.15" height="9.52" fill="#cdb7d3"/>
<rect x="217.58" y="430.75" width="10.15" height="9.73" fill="#e2a199"/>
<rect x="217.58" y="440.48" width="10.15" height="9.94" fill="#c3423b"/>
<rect x="217.58" y="450.42" width="10.15" height="10.15" fill="#edb87e"/>
<rect x="217.58" y="460.58" width="10.15" height="9.94" fill="#d68b3a"/>
<rect x="217.58" y="470.52" width="10.15" height="9.73" fill="#cdb7d3"/>
<rect x="217.58" y="480.25" width="10.15" height="9.73" fill="#80598f"/>
<rect x="217.58" y="489.98" width="10.15" height="10.15" fill="#f7eaa0"/>
<rect x="217.58" y="500.13" width="10.15" height="9.52" fill="#b4744b"/>
<rect x="227.73" y="411.50" width="9.94" height="9.73" fill="#1b7eb5"/>
<rect x="227.73" y="421.23" width="9.94" height="9.52" fill="#80598f"/>
<rect x="227.73" y="430.75" width="9.94" height="9.73" fill="#b0cce3"/>
<rect x="227.73" y="440.48" width="9.94" height="9.52" fill="#cdb7d3"/>
<rect x="237.67" y="411.50" width="10.79" height="9.73" fill="#b3c897"/>
<rect x="248.46" y="411.50" width="10.37" height="9.73" fill="#54a057"/>
<rect x="258.83" y="411.50" width="10.37" height="9.73" fill="#e2a199"/>
<rect x="269.19" y="411.50" width="10.37" height="9.73" fill="#c3423b"/>
<rect x="279.56" y="411.50" width="10.37" height="9.73" fill="#edb87e"/>
<rect x="289.92" y="411.50" width="10.37" height="9.73" fill="#d68b3a"/>
<rect x="237.67" y="421.23" width="10.79" height="9.52" fill="#f7eaa0"/>
<rect x="248.46" y="421.23" width="10.37" height="9.52" fill="#b4744b"/>
<rect x="258.83" y="421.23" width="10.37" height="9.52" fill="#b0cce3"/>
<rect x="269.19" y="421.23" width="10.37" height="9.52" fill="#1b7eb5"/>
<rect x="279.56" y="421.23" width="10.37" height="9.52" fill="#b3c897"/>
<rect x="289.92" y="421.23" width="10.37" height="9.52" fill="#54a057"/>
<rect x="237.67" y="430.75" width="10.79" height="9.73" fill="#1b7eb5"/>
<rect x="248.46" y="430.75" width="10.37" height="9.73" fill="#b3c897"/>
<rect x="258.83" y="430.75" width="10.37" height="9.73" fill="#54a057"/>
<rect x="269.19" y="430.75" width="10.37" height="9.73" fill="#e2a199"/>
<rect x="279.56" y="430.75" width="10.37" height="9.73" fill="#c3423b"/>
<rect x="289.92" y="430.75" width="10.37" height="9.73" fill="#d68b3a"/>
<rect x="227.20" y="450.15" width="10.50" height="4.80" fill="#54a057"/>
<rect x="227.20" y="454.95" width="10.50" height="5.10" fill="#e2a199"/>
<rect x="227.20" y="460.05" width="10.50" height="4.95" fill="#c3423b"/>
<rect x="227.20" y="465.00" width="10.50" height="4.80" fill="#edb87e"/>
<rect x="227.20" y="469.80" width="10.50" height="4.95" fill="#d68b3a"/>
<rect x="227.20" y="474.75" width="10.50" height="5.10" fill="#cdb7d3"/>
<rect x="227.20" y="479.85" width="10.50" height="4.95" fill="#80598f"/>
<rect x="227.20" y="484.80" width="10.50" height="4.95" fill="#f7eaa0"/>
<rect x="227.20" y="489.75" width="10.50" height="4.80" fill="#b4744b"/>
<rect x="227.20" y="494.55" width="10.50" height="4.95" fill="#b0cce3"/>
<rect x="227.20" y="499.50" width="10.50" height="4.80" fill="#1b7eb5"/>
<rect x="227.20" y="504.30" width="10.50" height="5.10" fill="#b3c897"/>
<rect x="237.70" y="440.40" width="6.60" height="7.05" fill="#54a057"/>
<rect x="244.30" y="440.40" width="6.75" height="7.05" fill="#e2a199"/>
<rect x="251.05" y="440.40" width="6.90" height="7.05" fill="#c3423b"/>
<rect x="257.95" y="440.40" width="7.20" height="7.05" fill="#edb87e"/>
<rect x="265.15" y="440.40" width="7.05" height="7.05" fill="#d68b3a"/>
<rect x="272.20" y="440.40" width="7.35" height="7.05" fill="#cdb7d3"/>
<rect x="279.55" y="440.40" width="6.75" height="7.05" fill="#80598f"/>
<rect x="286.30" y="440.40" width="6.90" height="7.05" fill="#f7eaa0"/>
<rect x="293.20" y="440.40" width="6.75" height="7.05" fill="#b4744b"/>
<rect x="237.70" y="447.45" width="6.60" height="6.90" fill="#b0cce3"/>
<rect x="244.30" y="447.45" width="6.75" height="6.90" fill="#80598f"/>
<rect x="251.05" y="447.45" width="6.90" height="6.90" fill="#f7eaa0"/>
<rect x="257.95" y="447.45" width="7.20" height="6.90" fill="#b4744b"/>
<rect x="265.15" y="447.45" width="7.05" height="6.90" fill="#b0cce3"/>
<rect x="272.20" y="447.45" width="7.35" height="6.90" fill="#1b7eb5"/>
<rect x="279.55" y="447.45" width="6.75" height="6.90" fill="#b3c897"/>
<rect x="286.30" y="447.45" width="6.90" height="6.90" fill="#54a057"/>
<rect x="293.20" y="447.45" width="6.75" height="6.90" fill="#e2a199"/>
<rect x="237.70" y="454.35" width="6.60" height="7.05" fill="#1b7eb5"/>
<rect x="244.30" y="454.35" width="6.75" height="7.05" fill="#c3423b"/>
<rect x="251.05" y="454.35" width="6.90" height="7.05" fill="#cdb7d3"/>
<rect x="257.95" y="454.35" width="7.20" height="7.05" fill="#80598f"/>
<rect x="265.15" y="454.35" width="7.05" height="7.05" fill="#f7eaa0"/>
<rect x="272.20" y="454.35" width="7.35" height="7.05" fill="#b4744b"/>
<rect x="279.55" y="454.35" width="6.75" height="7.05" fill="#b0cce3"/>
<rect x="286.30" y="454.35" width="6.90" height="7.05" fill="#1b7eb5"/>
<rect x="293.20" y="454.35" width="6.75" height="7.05" fill="#b3c897"/>
<rect x="237.70" y="461.40" width="6.60" height="6.90" fill="#b3c897"/>
<rect x="244.30" y="461.40" width="6.75" height="6.90" fill="#edb87e"/>
<rect x="251.05" y="461.40" width="6.90" height="6.90" fill="#54a057"/>
<rect x="257.95" y="461.40" width="7.20" height="6.90" fill="#f7eaa0"/>
<rect x="265.15" y="461.40" width="7.05" height="6.90" fill="#b4744b"/>
<rect x="272.20" y="461.40" width="7.35" height="6.90" fill="#b0cce3"/>
<rect x="279.55" y="461.40" width="6.75" height="6.90" fill="#1b7eb5"/>
<rect x="286.30" y="461.40" width="6.90" height="6.90" fill="#b3c897"/>
<rect x="293.20" y="461.40" width="6.75" height="6.90" fill="#54a057"/>
<rect x="237.70" y="468.30" width="6.60" height="7.05" fill="#54a057"/>
<rect x="244.30" y="468.30" width="6.75" height="7.05" fill="#d68b3a"/>
<rect x="251.05" y="468.30" width="6.90" height="7.05" fill="#e2a199"/>
<rect x="257.95" y="468.30" width="7.20" height="7.05" fill="#e2a199"/>
<rect x="265.15" y="468.30" width="7.05" height="7.05" fill="#f7eaa0"/>
<rect x="272.20" y="468.30" width="7.35" height="7.05" fill="#b4744b"/>
<rect x="279.55" y="468.30" width="6.75" height="7.05" fill="#b0cce3"/>
<rect x="286.30" y="468.30" width="6.90" height="7.05" fill="#1b7eb5"/>
<rect x="293.20" y="468.30" width="6.75" height="7.05" fill="#b3c897"/>
<rect x="237.70" y="475.35" width="6.60" height="6.90" fill="#e2a199"/>
<rect x="244.30" y="475.35" width="6.75" height="6.90" fill="#cdb7d3"/>
<rect x="251.05" y="475.35" width="6.90" height="6.90" fill="#c3423b"/>
<rect x="257.95" y="475.35" width="7.20" height="6.90" fill="#c3423b"/>
<rect x="265.15" y="475.35" width="7.05" height="6.90" fill="#54a057"/>
<rect x="272.20" y="475.35" width="7.35" height="6.90" fill="#cdb7d3"/>
<rect x="279.55" y="475.35" width="6.75" height="6.90" fill="#80598f"/>
<rect x="286.30" y="475.35" width="6.90" height="6.90" fill="#f7eaa0"/>
<rect x="293.20" y="475.35" width="6.75" height="6.90" fill="#b4744b"/>
<rect x="237.70" y="482.25" width="6.60" height="7.05" fill="#c3423b"/>
<rect x="244.30" y="482.25" width="6.75" height="7.05" fill="#80598f"/>
<rect x="251.05" y="482.25" width="7.20" height="7.05" fill="#edb87e"/>
<rect x="258.25" y="482.25" width="7.35" height="7.05" fill="#edb87e"/>
<rect x="265.60" y="482.25" width="6.75" height="7.05" fill="#e2a199"/>
<rect x="272.35" y="482.25" width="7.80" height="7.05" fill="#b0cce3"/>
<rect x="280.15" y="482.25" width="7.05" height="7.05" fill="#e2a199"/>
<rect x="287.20" y="482.25" width="6.30" height="7.05" fill="#c3423b"/>
<rect x="293.50" y="482.25" width="6.45" height="7.05" fill="#edb87e"/>
<rect x="237.70" y="489.30" width="6.60" height="7.05" fill="#edb87e"/>
<rect x="244.30" y="489.30" width="6.75" height="7.05" fill="#f7eaa0"/>
<rect x="251.05" y="489.30" width="7.20" height="7.05" fill="#d68b3a"/>
<rect x="258.25" y="489.30" width="7.35" height="7.05" fill="#d68b3a"/>
<rect x="265.60" y="489.30" width="6.75" height="7.05" fill="#c3423b"/>
<rect x="272.35" y="489.30" width="7.80" height="7.05" fill="#1b7eb5"/>
<rect x="280.15" y="489.30" width="7.05" height="7.05" fill="#d68b3a"/>
<rect x="287.20" y="489.30" width="6.30" height="8.85" fill="#f7eaa0"/>
<rect x="293.50" y="489.30" width="6.45" height="8.85" fill="#b4744b"/>
<rect x="237.70" y="496.35" width="6.60" height="6.30" fill="#d68b3a"/>
<rect x="244.30" y="496.35" width="6.75" height="6.30" fill="#edb87e"/>
<rect x="251.05" y="496.35" width="7.20" height="6.30" fill="#cdb7d3"/>
<rect x="258.25" y="496.35" width="7.35" height="6.30" fill="#cdb7d3"/>
<rect x="265.60" y="496.35" width="6.75" height="6.30" fill="#edb87e"/>
<rect x="272.35" y="496.35" width="7.80" height="6.30" fill="#b3c897"/>
<rect x="280.15" y="496.35" width="7.05" height="6.30" fill="#cdb7d3"/>
<rect x="237.70" y="502.65" width="6.60" height="6.75" fill="#cdb7d3"/>
<rect x="244.30" y="502.65" width="6.75" height="6.75" fill="#d68b3a"/>
<rect x="251.05" y="502.65" width="7.20" height="6.75" fill="#80598f"/>
<rect x="258.25" y="502.65" width="7.35" height="6.75" fill="#80598f"/>
<rect x="265.60" y="502.65" width="6.75" height="6.75" fill="#d68b3a"/>
<rect x="272.35" y="502.65" width="7.80" height="6.75" fill="#54a057"/>
<rect x="280.15" y="502.65" width="7.05" height="6.75" fill="#80598f"/>
<rect x="287.20" y="498.15" width="8.70" height="5.40" fill="#b0cce3"/>
<rect x="287.20" y="503.55" width="8.70" height="5.85" fill="#1b7eb5"/>
<rect x="295.90" y="498.15" width="4.05" height="11.25" fill="#b3c897"/>
</g>
<g id="pt11_w" stroke="#1e1e1e" stroke-width="0.62" shape-rendering="geometricPrecision">
<rect x="304.23" y="411.92" width="12.69" height="11.42" fill="#b0cce3"/>
<rect x="304.23" y="423.35" width="12.69" height="11.85" fill="#1b7eb5"/>
<rect x="304.23" y="435.19" width="12.69" height="11.63" fill="#b3c897"/>
<rect x="304.23" y="446.83" width="12.69" height="12.06" fill="#54a057"/>
<rect x="304.23" y="458.88" width="12.69" height="11.63" fill="#e2a199"/>
<rect x="304.23" y="470.52" width="12.69" height="7.40" fill="#80598f"/>
<rect x="304.23" y="477.92" width="12.69" height="8.04" fill="#f7eaa0"/>
<rect x="304.23" y="485.96" width="12.69" height="7.83" fill="#b4744b"/>
<rect x="304.23" y="493.79" width="12.69" height="8.04" fill="#b0cce3"/>
<rect x="304.23" y="501.83" width="12.69" height="7.83" fill="#1b7eb5"/>
<rect x="317.30" y="412.20" width="9.30" height="9.75" fill="#b3c897"/>
<rect x="326.60" y="412.20" width="9.90" height="9.75" fill="#54a057"/>
<rect x="336.50" y="412.20" width="9.45" height="9.75" fill="#e2a199"/>
<rect x="345.95" y="412.20" width="10.05" height="9.75" fill="#c3423b"/>
<rect x="356.00" y="412.20" width="9.45" height="9.75" fill="#edb87e"/>
<rect x="365.45" y="412.20" width="10.05" height="9.75" fill="#d68b3a"/>
<rect x="375.50" y="412.20" width="9.15" height="9.75" fill="#cdb7d3"/>
<rect x="384.65" y="412.20" width="9.75" height="4.65" fill="#54a057"/>
<rect x="394.40" y="412.20" width="10.35" height="4.65" fill="#c3423b"/>
<rect x="384.65" y="416.85" width="9.75" height="5.10" fill="#e2a199"/>
<rect x="394.40" y="416.85" width="10.35" height="5.10" fill="#edb87e"/>
<rect x="317.30" y="421.95" width="6.45" height="7.50" fill="#d68b3a"/>
<rect x="323.75" y="421.95" width="6.75" height="7.50" fill="#cdb7d3"/>
<rect x="330.50" y="421.95" width="6.60" height="7.50" fill="#80598f"/>
<rect x="337.10" y="421.95" width="6.60" height="7.50" fill="#f7eaa0"/>
<rect x="343.70" y="421.95" width="6.60" height="7.50" fill="#b4744b"/>
<rect x="350.30" y="421.95" width="6.75" height="7.50" fill="#b0cce3"/>
<rect x="357.05" y="421.95" width="6.75" height="7.50" fill="#1b7eb5"/>
<rect x="363.80" y="421.95" width="6.75" height="7.50" fill="#b3c897"/>
<rect x="370.55" y="421.95" width="6.75" height="7.50" fill="#54a057"/>
<rect x="377.30" y="421.95" width="6.75" height="7.50" fill="#e2a199"/>
<rect x="384.05" y="421.95" width="6.75" height="7.50" fill="#c3423b"/>
<rect x="390.80" y="421.95" width="6.75" height="7.50" fill="#edb87e"/>
<rect x="397.55" y="421.95" width="7.20" height="7.50" fill="#d68b3a"/>
<rect x="317.30" y="429.45" width="7.05" height="6.15" fill="#cdb7d3"/>
<rect x="324.35" y="429.45" width="7.20" height="6.15" fill="#cdb7d3"/>
<rect x="331.55" y="429.45" width="7.35" height="6.15" fill="#80598f"/>
<rect x="338.90" y="429.45" width="7.35" height="6.15" fill="#f7eaa0"/>
<rect x="346.25" y="429.45" width="7.43" height="6.15" fill="#b4744b"/>
<rect x="353.68" y="429.45" width="7.12" height="6.15" fill="#b0cce3"/>
<rect x="360.80" y="429.45" width="7.57" height="6.15" fill="#1b7eb5"/>
<rect x="368.38" y="429.45" width="7.12" height="6.15" fill="#b3c897"/>
<rect x="375.50" y="429.45" width="7.12" height="6.15" fill="#54a057"/>
<rect x="382.62" y="429.45" width="7.12" height="6.15" fill="#e2a199"/>
<rect x="389.75" y="429.45" width="7.05" height="6.15" fill="#c3423b"/>
<rect x="396.80" y="429.45" width="7.95" height="6.15" fill="#edb87e"/>
<rect x="317.30" y="435.60" width="7.05" height="6.90" fill="#80598f"/>
<rect x="324.35" y="435.60" width="7.20" height="6.90" fill="#d68b3a"/>
<rect x="331.55" y="435.60" width="7.35" height="6.90" fill="#edb87e"/>
<rect x="338.90" y="435.60" width="7.35" height="6.90" fill="#d68b3a"/>
<rect x="346.25" y="435.60" width="7.43" height="6.90" fill="#cdb7d3"/>
<rect x="353.68" y="435.60" width="7.12" height="6.90" fill="#80598f"/>
<rect x="360.80" y="435.60" width="7.57" height="6.90" fill="#f7eaa0"/>
<rect x="368.38" y="435.60" width="7.12" height="6.90" fill="#b4744b"/>
<rect x="375.50" y="435.60" width="7.12" height="6.90" fill="#b0cce3"/>
<rect x="382.62" y="435.60" width="7.12" height="6.90" fill="#1b7eb5"/>
<rect x="389.75" y="435.60" width="7.05" height="6.90" fill="#b3c897"/>
<rect x="396.80" y="435.60" width="7.95" height="6.90" fill="#54a057"/>
<rect x="317.30" y="442.50" width="7.05" height="6.98" fill="#f7eaa0"/>
<rect x="324.35" y="442.50" width="7.20" height="6.98" fill="#cdb7d3"/>
<rect x="331.55" y="442.50" width="7.35" height="6.98" fill="#e2a199"/>
<rect x="338.90" y="442.50" width="7.35" height="6.98" fill="#b3c897"/>
<rect x="346.25" y="442.50" width="7.43" height="6.98" fill="#54a057"/>
<rect x="353.68" y="442.50" width="7.12" height="6.98" fill="#e2a199"/>
<rect x="360.80" y="442.50" width="7.57" height="6.98" fill="#c3423b"/>
<rect x="368.38" y="442.50" width="7.12" height="6.98" fill="#edb87e"/>
<rect x="375.50" y="442.50" width="7.12" height="6.98" fill="#d68b3a"/>
<rect x="382.62" y="442.50" width="7.12" height="6.98" fill="#cdb7d3"/>
<rect x="389.75" y="442.50" width="7.05" height="6.98" fill="#80598f"/>
<rect x="396.80" y="442.50" width="7.95" height="6.98" fill="#c3423b"/>
<rect x="317.30" y="449.48" width="7.05" height="6.75" fill="#b4744b"/>
<rect x="324.35" y="449.48" width="7.20" height="6.75" fill="#80598f"/>
<rect x="331.55" y="449.48" width="7.35" height="6.75" fill="#c3423b"/>
<rect x="338.90" y="449.48" width="7.35" height="6.75" fill="#edb87e"/>
<rect x="346.25" y="449.48" width="7.43" height="6.75" fill="#54a057"/>
<rect x="353.68" y="449.48" width="7.12" height="6.75" fill="#e2a199"/>
<rect x="360.80" y="449.48" width="7.57" height="6.75" fill="#c3423b"/>
<rect x="368.38" y="449.48" width="7.12" height="6.75" fill="#edb87e"/>
<rect x="375.50" y="449.48" width="7.12" height="6.75" fill="#d68b3a"/>
<rect x="382.62" y="449.48" width="7.12" height="6.75" fill="#cdb7d3"/>
<rect x="389.75" y="449.48" width="7.05" height="6.75" fill="#80598f"/>
<rect x="396.80" y="449.48" width="7.95" height="6.75" fill="#f7eaa0"/>
<rect x="317.30" y="456.23" width="7.05" height="6.30" fill="#b0cce3"/>
<rect x="324.35" y="456.23" width="7.20" height="6.30" fill="#f7eaa0"/>
<rect x="331.55" y="456.23" width="7.35" height="6.30" fill="#edb87e"/>
<rect x="338.90" y="456.23" width="7.35" height="6.30" fill="#d68b3a"/>
<rect x="346.25" y="456.23" width="7.43" height="6.30" fill="#b4744b"/>
<rect x="353.68" y="456.23" width="7.12" height="6.30" fill="#d68b3a"/>
<rect x="360.80" y="456.23" width="7.57" height="6.30" fill="#cdb7d3"/>
<rect x="368.38" y="456.23" width="7.12" height="6.30" fill="#80598f"/>
<rect x="375.50" y="456.23" width="7.12" height="6.30" fill="#f7eaa0"/>
<rect x="382.62" y="456.23" width="7.12" height="6.30" fill="#b4744b"/>
<rect x="389.75" y="456.23" width="7.05" height="6.30" fill="#b0cce3"/>
<rect x="396.80" y="456.23" width="7.95" height="6.30" fill="#1b7eb5"/>
<rect x="317.30" y="462.52" width="7.05" height="6.60" fill="#1b7eb5"/>
<rect x="324.35" y="462.52" width="7.20" height="6.60" fill="#b4744b"/>
<rect x="331.55" y="462.52" width="7.35" height="6.60" fill="#d68b3a"/>
<rect x="338.90" y="462.52" width="7.35" height="6.60" fill="#cdb7d3"/>
<rect x="346.25" y="462.52" width="7.43" height="6.60" fill="#b0cce3"/>
<rect x="353.68" y="462.52" width="7.12" height="6.60" fill="#b3c897"/>
<rect x="360.80" y="462.52" width="7.57" height="6.60" fill="#80598f"/>
<rect x="368.38" y="462.52" width="7.12" height="6.60" fill="#f7eaa0"/>
<rect x="375.50" y="462.52" width="7.12" height="6.60" fill="#b4744b"/>
<rect x="382.62" y="462.52" width="7.12" height="6.60" fill="#b0cce3"/>
<rect x="389.75" y="462.52" width="7.05" height="6.60" fill="#1b7eb5"/>
<rect x="396.80" y="462.52" width="7.95" height="6.60" fill="#b3c897"/>
<rect x="317.30" y="469.12" width="7.05" height="6.52" fill="#b3c897"/>
<rect x="324.35" y="469.12" width="7.20" height="6.52" fill="#b0cce3"/>
<rect x="331.55" y="469.12" width="7.35" height="6.52" fill="#cdb7d3"/>
<rect x="338.90" y="469.12" width="7.35" height="6.52" fill="#80598f"/>
<rect x="346.25" y="469.12" width="7.43" height="6.52" fill="#1b7eb5"/>
<rect x="353.68" y="469.12" width="7.12" height="6.52" fill="#54a057"/>
<rect x="360.80" y="469.12" width="7.57" height="6.52" fill="#54a057"/>
<rect x="368.38" y="469.12" width="7.12" height="6.52" fill="#80598f"/>
<rect x="375.50" y="469.12" width="7.12" height="6.52" fill="#f7eaa0"/>
<rect x="382.62" y="469.12" width="7.12" height="6.52" fill="#b4744b"/>
<rect x="389.75" y="469.12" width="7.05" height="6.52" fill="#b0cce3"/>
<rect x="396.80" y="469.12" width="7.95" height="6.52" fill="#1b7eb5"/>
<rect x="317.30" y="475.65" width="7.05" height="6.83" fill="#54a057"/>
<rect x="324.35" y="475.65" width="7.20" height="6.83" fill="#1b7eb5"/>
<rect x="331.55" y="475.65" width="7.35" height="6.83" fill="#80598f"/>
<rect x="338.90" y="475.65" width="7.35" height="6.83" fill="#f7eaa0"/>
<rect x="346.25" y="475.65" width="7.43" height="6.83" fill="#b3c897"/>
<rect x="353.68" y="475.65" width="7.12" height="6.83" fill="#e2a199"/>
<rect x="360.80" y="475.65" width="7.57" height="6.83" fill="#e2a199"/>
<rect x="368.38" y="475.65" width="7.12" height="6.83" fill="#b3c897"/>
<rect x="375.50" y="475.65" width="7.12" height="6.83" fill="#d68b3a"/>
<rect x="382.62" y="475.65" width="7.12" height="6.83" fill="#cdb7d3"/>
<rect x="389.75" y="475.65" width="7.05" height="6.83" fill="#80598f"/>
<rect x="396.80" y="475.65" width="7.95" height="6.83" fill="#f7eaa0"/>
<rect x="317.30" y="482.48" width="7.05" height="6.75" fill="#e2a199"/>
<rect x="324.35" y="482.48" width="7.20" height="6.75" fill="#b3c897"/>
<rect x="331.55" y="482.48" width="7.35" height="6.75" fill="#f7eaa0"/>
<rect x="338.90" y="482.48" width="7.35" height="6.75" fill="#b4744b"/>
<rect x="346.25" y="482.48" width="7.43" height="6.75" fill="#54a057"/>
<rect x="353.68" y="482.48" width="7.12" height="6.75" fill="#c3423b"/>
<rect x="360.80" y="482.48" width="7.57" height="6.75" fill="#c3423b"/>
<rect x="368.38" y="482.48" width="7.12" height="6.75" fill="#54a057"/>
<rect x="375.50" y="482.48" width="7.12" height="6.75" fill="#b4744b"/>
<rect x="382.62" y="482.48" width="7.12" height="6.75" fill="#54a057"/>
<rect x="389.75" y="482.48" width="7.05" height="6.75" fill="#e2a199"/>
<rect x="396.80" y="482.48" width="7.95" height="6.75" fill="#c3423b"/>
<rect x="317.30" y="489.23" width="7.05" height="6.75" fill="#c3423b"/>
<rect x="324.35" y="489.23" width="7.20" height="6.75" fill="#54a057"/>
<rect x="331.55" y="489.23" width="7.35" height="6.75" fill="#b4744b"/>
<rect x="338.90" y="489.23" width="7.35" height="6.75" fill="#b0cce3"/>
<rect x="346.25" y="489.23" width="7.43" height="6.75" fill="#e2a199"/>
<rect x="353.68" y="489.23" width="7.12" height="6.75" fill="#edb87e"/>
<rect x="360.80" y="489.23" width="7.57" height="6.75" fill="#edb87e"/>
<rect x="368.38" y="489.23" width="7.12" height="6.75" fill="#e2a199"/>
<rect x="375.50" y="489.23" width="7.12" height="6.75" fill="#b0cce3"/>
<rect x="382.62" y="489.23" width="7.12" height="6.75" fill="#edb87e"/>
<rect x="389.75" y="489.23" width="7.05" height="6.75" fill="#80598f"/>
<rect x="396.80" y="489.23" width="7.95" height="6.75" fill="#f7eaa0"/>
<rect x="317.30" y="495.98" width="7.05" height="6.52" fill="#edb87e"/>
<rect x="324.35" y="495.98" width="7.20" height="6.52" fill="#e2a199"/>
<rect x="331.55" y="495.98" width="7.35" height="6.52" fill="#b0cce3"/>
<rect x="338.90" y="495.98" width="7.35" height="6.52" fill="#1b7eb5"/>
<rect x="346.25" y="495.98" width="7.43" height="6.52" fill="#c3423b"/>
<rect x="353.68" y="495.98" width="7.12" height="6.52" fill="#d68b3a"/>
<rect x="360.80" y="495.98" width="7.57" height="6.52" fill="#d68b3a"/>
<rect x="368.38" y="495.98" width="7.12" height="6.52" fill="#c3423b"/>
<rect x="375.50" y="495.98" width="7.12" height="6.52" fill="#1b7eb5"/>
<rect x="382.62" y="495.98" width="7.12" height="6.52" fill="#d68b3a"/>
<rect x="389.75" y="495.98" width="7.05" height="6.52" fill="#b4744b"/>
<rect x="396.80" y="495.98" width="7.95" height="6.52" fill="#1b7eb5"/>
<rect x="317.30" y="502.50" width="7.05" height="7.05" fill="#d68b3a"/>
<rect x="324.35" y="502.50" width="7.20" height="7.05" fill="#c3423b"/>
<rect x="331.55" y="502.50" width="7.35" height="7.05" fill="#1b7eb5"/>
<rect x="338.90" y="502.50" width="7.35" height="7.05" fill="#b3c897"/>
<rect x="346.25" y="502.50" width="7.43" height="7.05" fill="#edb87e"/>
<rect x="353.68" y="502.50" width="7.12" height="7.05" fill="#cdb7d3"/>
<rect x="360.80" y="502.50" width="7.57" height="7.05" fill="#cdb7d3"/>
<rect x="368.38" y="502.50" width="7.12" height="7.05" fill="#edb87e"/>
<rect x="375.50" y="502.50" width="7.12" height="7.05" fill="#b3c897"/>
<rect x="382.62" y="502.50" width="7.12" height="7.05" fill="#cdb7d3"/>
<rect x="389.75" y="502.50" width="7.05" height="7.05" fill="#b0cce3"/>
<rect x="396.80" y="502.50" width="7.95" height="7.05" fill="#b3c897"/>
</g>
<g id="pt12_w" stroke="#1e1e1e" stroke-width="0.62" shape-rendering="geometricPrecision">
<rect x="408.81" y="411.92" width="13.54" height="12.69" fill="#b0cce3"/>
<rect x="408.81" y="424.62" width="13.54" height="12.27" fill="#80598f"/>
<rect x="408.81" y="436.88" width="13.54" height="11.63" fill="#f7eaa0"/>
<rect x="408.81" y="448.52" width="13.54" height="12.27" fill="#b4744b"/>
<rect x="408.81" y="460.79" width="13.54" height="12.48" fill="#b0cce3"/>
<rect x="408.81" y="473.27" width="13.54" height="12.06" fill="#1b7eb5"/>
<rect x="408.81" y="485.33" width="13.54" height="12.27" fill="#b3c897"/>
<rect x="408.81" y="497.60" width="13.54" height="12.06" fill="#54a057"/>
<rect x="422.35" y="411.92" width="12.27" height="12.69" fill="#e2a199"/>
<rect x="434.62" y="411.92" width="12.48" height="12.69" fill="#c3423b"/>
<rect x="422.35" y="424.62" width="13.12" height="12.69" fill="#f7eaa0"/>
<rect x="435.46" y="424.62" width="12.69" height="13.54" fill="#b3c897"/>
<rect x="422.35" y="437.31" width="13.12" height="11.63" fill="#b4744b"/>
<rect x="422.35" y="448.94" width="13.12" height="12.27" fill="#b0cce3"/>
<rect x="422.35" y="461.21" width="13.12" height="12.06" fill="#1b7eb5"/>
<rect x="422.35" y="473.27" width="13.12" height="12.06" fill="#b3c897"/>
<rect x="422.35" y="485.33" width="13.12" height="12.27" fill="#54a057"/>
<rect x="422.35" y="497.60" width="13.12" height="12.06" fill="#e2a199"/>
<rect x="435.46" y="438.15" width="14.38" height="12.06" fill="#f7eaa0"/>
<rect x="435.46" y="450.21" width="14.38" height="11.85" fill="#b4744b"/>
<rect x="435.46" y="462.06" width="14.38" height="12.06" fill="#b0cce3"/>
<rect x="435.46" y="474.12" width="14.38" height="11.85" fill="#1b7eb5"/>
<rect x="435.46" y="485.96" width="14.38" height="12.06" fill="#b3c897"/>
<rect x="435.46" y="498.02" width="14.38" height="11.63" fill="#54a057"/>
<rect x="447.10" y="411.92" width="12.27" height="12.69" fill="#edb87e"/>
<rect x="459.37" y="411.92" width="12.48" height="12.69" fill="#1b7eb5"/>
<rect x="471.85" y="411.92" width="12.27" height="12.69" fill="#d68b3a"/>
<rect x="484.12" y="411.92" width="12.48" height="12.69" fill="#cdb7d3"/>
<rect x="496.60" y="411.92" width="12.48" height="12.69" fill="#80598f"/>
<rect x="448.15" y="424.62" width="12.27" height="13.54" fill="#c3423b"/>
<rect x="460.42" y="424.62" width="12.27" height="13.54" fill="#edb87e"/>
<rect x="472.69" y="424.62" width="11.85" height="13.54" fill="#d68b3a"/>
<rect x="484.54" y="424.62" width="12.06" height="13.54" fill="#cdb7d3"/>
<rect x="496.60" y="424.62" width="12.48" height="13.54" fill="#80598f"/>
<rect x="449.85" y="438.15" width="11.42" height="14.17" fill="#54a057"/>
<rect x="461.27" y="438.15" width="11.85" height="14.17" fill="#e2a199"/>
<rect x="473.12" y="438.15" width="11.85" height="14.17" fill="#c3423b"/>
<rect x="484.96" y="438.15" width="12.27" height="14.17" fill="#edb87e"/>
<rect x="497.23" y="438.15" width="11.85" height="14.17" fill="#d68b3a"/>
<rect x="449.58" y="452.15" width="12.79" height="12.79" fill="#cdb7d3"/>
<rect x="462.37" y="452.15" width="9.02" height="9.29" fill="#b4744b"/>
<rect x="471.38" y="452.15" width="9.02" height="9.29" fill="#b0cce3"/>
<rect x="480.40" y="452.15" width="9.29" height="9.29" fill="#1b7eb5"/>
<rect x="489.69" y="452.15" width="9.56" height="9.29" fill="#b3c897"/>
<rect x="499.25" y="452.15" width="9.56" height="9.29" fill="#54a057"/>
<rect x="462.37" y="461.44" width="9.02" height="8.88" fill="#e2a199"/>
<rect x="471.38" y="461.44" width="9.02" height="8.88" fill="#c3423b"/>
<rect x="480.40" y="461.44" width="9.29" height="8.88" fill="#edb87e"/>
<rect x="489.69" y="461.44" width="9.56" height="8.88" fill="#d68b3a"/>
<rect x="499.25" y="461.44" width="9.56" height="8.88" fill="#cdb7d3"/>
<rect x="462.37" y="470.33" width="8.48" height="8.88" fill="#80598f"/>
<rect x="470.85" y="470.33" width="9.56" height="8.88" fill="#1b7eb5"/>
<rect x="480.40" y="470.33" width="9.15" height="8.88" fill="#b3c897"/>
<rect x="489.56" y="470.33" width="9.69" height="8.88" fill="#54a057"/>
<rect x="499.25" y="470.33" width="9.56" height="8.88" fill="#e2a199"/>
<rect x="449.58" y="464.94" width="6.46" height="12.38" fill="#e2a199"/>
<rect x="456.04" y="464.94" width="6.33" height="12.38" fill="#c3423b"/>
<rect x="449.58" y="477.33" width="6.46" height="13.06" fill="#edb87e"/>
<rect x="456.04" y="477.33" width="6.33" height="13.06" fill="#d68b3a"/>
<rect x="449.58" y="490.38" width="6.46" height="12.52" fill="#cdb7d3"/>
<rect x="456.04" y="490.38" width="6.33" height="12.52" fill="#80598f"/>
<rect x="449.58" y="502.90" width="12.79" height="6.73" fill="#f7eaa0"/>
<rect x="462.37" y="479.21" width="8.48" height="10.63" fill="#f7eaa0"/>
<rect x="470.85" y="479.21" width="8.21" height="10.23" fill="#c3423b"/>
<rect x="479.06" y="479.21" width="9.83" height="8.35" fill="#cdb7d3"/>
<rect x="488.88" y="479.21" width="9.83" height="8.35" fill="#80598f"/>
<rect x="498.71" y="479.21" width="10.10" height="8.35" fill="#f7eaa0"/>
<rect x="462.37" y="489.85" width="8.35" height="9.83" fill="#b4744b"/>
<rect x="470.71" y="489.44" width="8.35" height="9.83" fill="#edb87e"/>
<rect x="479.06" y="487.56" width="7.13" height="10.77" fill="#b4744b"/>
<rect x="486.19" y="487.56" width="7.40" height="10.77" fill="#1b7eb5"/>
<rect x="493.60" y="487.56" width="7.81" height="10.77" fill="#54a057"/>
<rect x="501.40" y="487.56" width="7.40" height="10.77" fill="#e2a199"/>
<rect x="462.37" y="499.67" width="8.35" height="9.96" fill="#b0cce3"/>
<rect x="470.71" y="499.27" width="8.35" height="10.37" fill="#d68b3a"/>
<rect x="479.06" y="498.33" width="7.13" height="11.31" fill="#b0cce3"/>
<rect x="486.19" y="498.33" width="7.40" height="11.31" fill="#b3c897"/>
<rect x="493.60" y="498.33" width="7.81" height="11.31" fill="#c3423b"/>
<rect x="501.40" y="498.33" width="7.40" height="11.31" fill="#edb87e"/>
</g>
</g>
<rect x="0" y="0" width="520" height="1" fill="#000"/>
<rect x="0" y="1" width="520" height="1" fill="#b0b0b0"/>
<rect x="0" y="0" width="1" height="536" fill="#777"/>
<rect x="1" y="0" width="1" height="535" fill="#333"/>
<rect x="518" y="0" width="1" height="535" fill="#444"/>
<rect x="519" y="0" width="1" height="536" fill="#777"/>
<rect x="1" y="534" width="518" height="1" fill="#333"/>
<rect x="0" y="535" width="520" height="1" fill="#777"/>
<rect x="0" y="0" width="520" height="1" fill="#000"/>
</svg>
</body>
</html>
